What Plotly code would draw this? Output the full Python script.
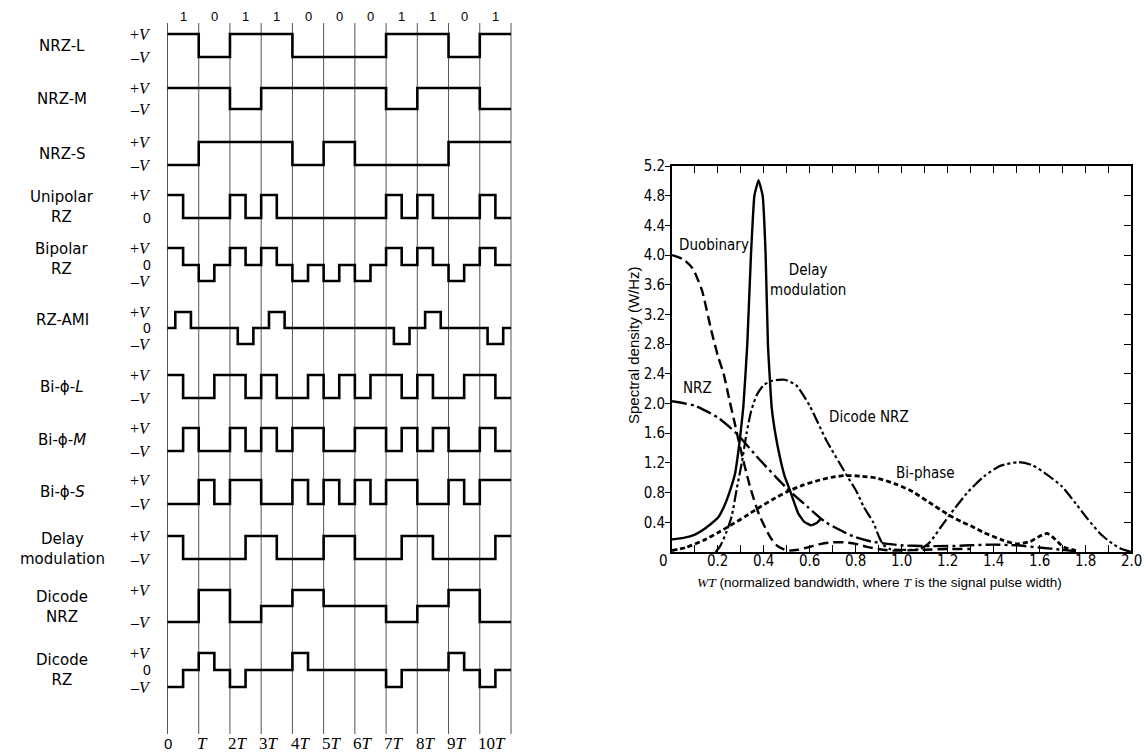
import plotly.graph_objects as go

W, H = 1146, 753

# ======================= LEFT PANEL DATA =======================
bits = ["1", "0", "1", "1", "0", "0", "0", "1", "1", "0", "1"]
grid_times = list(range(12))                      # grid lines at 0 .. 11T
time_labels = ["0", "<i>T</i>", "2<i>T</i>", "3<i>T</i>", "4<i>T</i>", "5<i>T</i>",
               "6<i>T</i>", "7<i>T</i>", "8<i>T</i>", "9<i>T</i>", "10<i>T</i>"]

half_edges = [k / 2 for k in range(23)]           # half-bit boundaries 0 .. 11T

# levels per half bit (+1 = +V, 0 = 0, -1 = -V)
nrz_l   = [1, 1, -1, -1, 1, 1, 1, 1, -1, -1, -1, -1, -1, -1, 1, 1, 1, 1, -1, -1, 1, 1]
nrz_m   = [1, 1, 1, 1, -1, -1, 1, 1, 1, 1, 1, 1, 1, 1, -1, -1, 1, 1, 1, 1, -1, -1]
nrz_s   = [-1, -1, 1, 1, 1, 1, 1, 1, -1, -1, 1, 1, -1, -1, -1, -1, -1, -1, 1, 1, 1, 1]
uni_rz  = [1, 0, 0, 0, 1, 0, 1, 0, 0, 0, 0, 0, 0, 0, 1, 0, 1, 0, 0, 0, 1, 0]
bip_rz  = [1, 0, -1, 0, 1, 0, 1, 0, -1, 0, -1, 0, -1, 0, 1, 0, 1, 0, -1, 0, 1, 0]
bi_l    = [1, -1, -1, 1, 1, -1, 1, -1, -1, 1, -1, 1, -1, 1, 1, -1, 1, -1, -1, 1, 1, -1]
bi_m    = [-1, 1, -1, -1, 1, -1, 1, -1, 1, 1, -1, -1, 1, 1, -1, 1, -1, 1, -1, -1, 1, -1]
bi_s    = [-1, -1, 1, -1, 1, 1, -1, -1, 1, -1, 1, -1, 1, -1, 1, 1, -1, -1, 1, -1, 1, 1]
delay   = [1, -1, -1, -1, -1, 1, 1, -1, -1, -1, 1, 1, -1, -1, -1, 1, 1, -1, -1, -1, -1, 1]
dic_nrz = [-1, -1, 1, 1, -1, -1, 0, 0, 1, 1, 0, 0, 0, 0, -1, -1, 0, 0, 1, 1, -1, -1]
dic_rz  = [-1, 0, 1, 0, -1, 0, 0, 0, 1, 0, 0, 0, 0, 0, -1, 0, 0, 0, 1, 0, -1, 0]

rz_ami_edges  = [0, 0.25, 0.75, 2.25, 2.75, 3.25, 3.75, 7.25, 7.75, 8.25, 8.75, 10.25, 10.75, 11]
rz_ami_levels = [0, 1, 0, -1, 0, 1, 0, -1, 0, 1, 0, -1, 0]

row_names = ["NRZ-L", "NRZ-M", "NRZ-S", "Unipolar<br>RZ", "Bipolar<br>RZ", "RZ-AMI",
             "Bi-\u03d5-<i>L</i>", "Bi-\u03d5-<i>M</i>", "Bi-\u03d5-<i>S</i>",
             "Delay<br>modulation", "Dicode<br>NRZ", "Dicode<br>RZ"]

waves = [(half_edges, nrz_l), (half_edges, nrz_m), (half_edges, nrz_s),
         (half_edges, uni_rz), (half_edges, bip_rz), (rz_ami_edges, rz_ami_levels),
         (half_edges, bi_l), (half_edges, bi_m), (half_edges, bi_s),
         (half_edges, delay), (half_edges, dic_nrz), (half_edges, dic_rz)]

# level labels shown for each row
row_level_labels = [
    [(1, "+V"), (-1, "-V")], [(1, "+V"), (-1, "-V")], [(1, "+V"), (-1, "-V")],
    [(1, "+V"), (0, "0")], [(1, "+V"), (0, "0"), (-1, "-V")], [(1, "+V"), (0, "0"), (-1, "-V")],
    [(1, "+V"), (-1, "-V")], [(1, "+V"), (-1, "-V")], [(1, "+V"), (-1, "-V")],
    [(1, "+V"), (-1, "-V")], [(1, "+V"), (-1, "-V")], [(1, "+V"), (0, "0"), (-1, "-V")],
]

# ---- left-panel layout (pixel rows of the +V, 0 and -V levels) ----
row_top  = [34, 88, 142, 195, 248, 312, 375, 428, 480, 536, 590, 653]
row_bot  = [57, 109, 165, 218, 281, 344, 398, 451, 504, 559, 622, 687]
row_zero = [45.5, 98.5, 153.5, 218, 265, 328, 386.5, 439.5, 492, 547.5, 606, 670]
row_label_y = [46, 99, 154, 207, 259, 320, 387, 440, 492, 549, 607, 670]

# ======================= RIGHT PANEL DATA =======================
wt_label_vals = [0.2, 0.4, 0.6, 0.8, 1.0, 1.2, 1.4, 1.6, 1.8, 2.0]
wt_tick_vals = [round(0.1 * k, 1) for k in range(21)]
psd_tick_vals = [0.4, 0.8, 1.2, 1.6, 2.0, 2.4, 2.8, 3.2, 3.6, 4.0, 4.4, 4.8, 5.2]

duo_wt  = [0.0, 0.05, 0.09, 0.13, 0.17, 0.2, 0.225, 0.25, 0.27, 0.3, 0.34, 0.38, 0.43, 0.46, 0.5,
           0.55, 0.6, 0.65, 0.7, 0.75, 0.8, 0.85, 0.9, 0.95, 1.0, 1.1, 1.2, 1.3]
duo_psd = [4.0, 3.94, 3.82, 3.53, 3.0, 2.64, 2.4, 2.05, 1.78, 1.37, 0.88, 0.5, 0.19, 0.08, 0.02,
           0.03, 0.07, 0.11, 0.13, 0.13, 0.11, 0.07, 0.04, 0.02, 0.02, 0.03, 0.04, 0.04]

dm_wt  = [0.0, 0.05, 0.1, 0.15, 0.2, 0.225, 0.25, 0.275, 0.295, 0.311, 0.328, 0.344, 0.359, 0.377,
          0.395, 0.408, 0.418, 0.434, 0.45, 0.47, 0.49, 0.514, 0.55, 0.575, 0.605, 0.63, 0.65]
dm_psd = [0.17, 0.19, 0.235, 0.33, 0.46, 0.6, 0.8, 1.06, 1.5, 1.96, 2.8, 4.0, 4.8, 5.01,
          4.8, 4.0, 2.8, 1.96, 1.6, 1.28, 1.03, 0.83, 0.52, 0.41, 0.36, 0.39, 0.45]

nrz_wt  = [0.0, 0.1, 0.2, 0.28, 0.38, 0.5, 0.59, 0.67, 0.79, 0.87, 0.94, 1.0, 1.1, 1.2, 1.3,
           1.4, 1.5, 1.6, 1.7, 1.76]
nrz_psd = [2.03, 1.97, 1.81, 1.6, 1.25, 0.86, 0.61, 0.4, 0.21, 0.14, 0.11, 0.09, 0.08, 0.08, 0.09,
           0.1, 0.09, 0.06, 0.03, 0.01]

dic_wt  = [0.19, 0.21, 0.235, 0.26, 0.282, 0.304, 0.325, 0.345, 0.37, 0.4, 0.44, 0.49, 0.54, 0.6,
           0.67, 0.76, 0.805, 0.835, 0.877, 0.9, 0.92, 0.95, 1.0, 1.05, 1.08, 1.12, 1.17, 1.21,
           1.29, 1.36, 1.43, 1.51, 1.57, 1.64, 1.7, 1.76, 1.81, 1.865, 1.92, 1.96, 2.0]
dic_psd = [0.0, 0.08, 0.25, 0.48, 0.85, 1.2, 1.6, 1.9, 2.12, 2.25, 2.31, 2.32, 2.25, 1.97,
           1.52, 1.04, 0.81, 0.61, 0.4, 0.22, 0.1, 0.04, 0.03, 0.03, 0.04, 0.12, 0.33, 0.5,
           0.81, 1.02, 1.16, 1.21, 1.17, 1.03, 0.88, 0.65, 0.45, 0.25, 0.11, 0.04, 0.0]

bip_wt  = [0.0, 0.06, 0.14, 0.2, 0.25, 0.32, 0.38, 0.44, 0.5, 0.57, 0.645, 0.7, 0.76, 0.83, 0.9,
           0.98, 1.05, 1.12, 1.2, 1.26, 1.31, 1.36, 1.44, 1.5, 1.56, 1.6, 1.635, 1.67, 1.705, 1.76]
bip_psd = [0.02, 0.06, 0.16, 0.26, 0.35, 0.48, 0.6, 0.71, 0.81, 0.9, 0.97, 1.01, 1.03, 1.02, 0.99,
           0.91, 0.81, 0.67, 0.51, 0.41, 0.34, 0.26, 0.16, 0.11, 0.14, 0.21, 0.25, 0.17, 0.07, 0.02]

# ======================= FIGURE =======================
SANS = "DejaVu Sans, Arial, sans-serif"
SERIF = "Liberation Serif, Times New Roman, serif"
NARROW = "Liberation Sans Narrow, Arial Narrow, DejaVu Sans Condensed, Liberation Sans, sans-serif"
ARIAL = "Liberation Sans, Arial, sans-serif"


def px(x):
    return x / W


def py(y):
    return 1 - y / H


fig = go.Figure()

# ---- left panel: time grid
t0_px, t11_px = 167.5, 511.0
pad = 0.3
scale = (t11_px - t0_px) / 11
lx0 = t0_px - pad * scale
lx1 = t11_px + pad * scale

gx, gy = [], []
for t in grid_times:
    gx += [t, t, None]
    gy += [23, 734, None]
fig.add_trace(go.Scatter(x=gx, y=gy, mode="lines", xaxis="x2", yaxis="y2",
                         line=dict(color="#555555", width=1), hoverinfo="skip", showlegend=False))


def level_to_y(i, lev):
    if lev >= 0:
        return row_zero[i] - lev * (row_zero[i] - row_top[i])
    return row_zero[i] + (-lev) * (row_bot[i] - row_zero[i])


for i, (edges, levels) in enumerate(waves):
    xs = list(edges)
    ys = [level_to_y(i, l) for l in levels] + [level_to_y(i, levels[-1])]
    fig.add_trace(go.Scatter(x=xs, y=ys, mode="lines", line_shape="hv", xaxis="x2", yaxis="y2",
                             line=dict(color="black", width=2.6), hoverinfo="skip", showlegend=False))

annotations = []
for k, b in enumerate(bits):
    annotations.append(dict(x=k + 0.5, y=16, xref="x2", yref="y2", text=b,
                            font=dict(family=ARIAL, size=13, color="black")))
for k, lab in enumerate(time_labels):
    if k == 0:
        annotations.append(dict(x=k, y=743, xref="x2", yref="y2", text=lab,
                                font=dict(family=ARIAL, size=15, color="black")))
    else:
        annotations.append(dict(x=k - 0.12, y=743, xref="x2", yref="y2", text=lab, xanchor="left",
                                font=dict(family=SERIF, size=17, color="black")))

for i, name in enumerate(row_names):
    annotations.append(dict(x=px(62), y=row_label_y[i], xref="paper", yref="y2", text=name,
                            align="center", font=dict(family=SANS, size=15, color="black")))
    for lev, txt in row_level_labels[i]:
        if txt == "0":
            t, fnt = "0", dict(family=ARIAL, size=14, color="black")
        else:
            sign = "+" if txt.startswith("+") else "\u2013"
            t, fnt = f"{sign}<i>V</i>", dict(family=SERIF, size=16, color="black")
        annotations.append(dict(x=px(153), y=level_to_y(i, lev), xref="paper", yref="y2", text=t,
                                xanchor="right", font=fnt))

# ---- right panel: spectral curves
curve_specs = [
    (duo_wt, duo_psd, "10px,5px", 2.4, 0.6),
    (dm_wt, dm_psd, "solid", 2.4, 0.35),
    (nrz_wt, nrz_psd, "15px,4px,3px,4px", 2.4, 0.6),
    (dic_wt, dic_psd, "12px,3px,3px,3px,3px,3px", 2.2, 0.6),
    (bip_wt, bip_psd, "5px,3px", 2.8, 0.6),
]
for xs, ys, dash, w, sm in curve_specs:
    fig.add_trace(go.Scatter(x=xs, y=ys, mode="lines", line=dict(color="black", width=w, dash=dash,
                                                               shape="spline", smoothing=sm),
                             hoverinfo="skip", showlegend=False))
# dummy trace for right-side tick axis
fig.add_trace(go.Scatter(x=[0], y=[0], yaxis="y3", mode="markers", marker=dict(opacity=0),
                         hoverinfo="skip", showlegend=False))

lab_font = dict(family=NARROW, size=15, color="black")
annotations += [
    dict(x=0.185, y=4.13, xref="x", yref="y", text="Duobinary", font=lab_font),
    dict(x=0.593, y=3.66, xref="x", yref="y", text="Delay<br>modulation", font=lab_font),
    dict(x=0.113, y=2.21, xref="x", yref="y", text="NRZ", font=lab_font),
    dict(x=0.858, y=1.82, xref="x", yref="y", text="Dicode NRZ", font=lab_font),
    dict(x=1.105, y=1.06, xref="x", yref="y", text="Bi-phase", font=lab_font),
    dict(x=px(663), y=py(561), xref="paper", yref="paper", text="0",
         font=dict(family=NARROW, size=15, color="black")),
    dict(x=px(633), y=py(345), xref="paper", yref="paper", text="Spectral density (W/Hz)",
         textangle=-90, font=dict(family=ARIAL, size=15, color="black")),
    dict(x=px(879), y=py(582), xref="paper", yref="paper",
         text=f'<span style="font-family:{SERIF}"><i>WT</i></span> (normalized bandwidth, where '
              f'<span style="font-family:{SERIF}"><i>T</i></span> is the signal pulse width)',
         font=dict(family=ARIAL, size=13.5, color="black")),
]
for v in wt_label_vals:
    annotations.append(dict(x=v, y=py(561), xref="x", yref="paper", text=f"{v:.1f}",
                            font=dict(family=NARROW, size=15, color="black")))
for a in annotations:
    a.setdefault("showarrow", False)
    a.setdefault("xanchor", "center")
    a.setdefault("yanchor", "middle")

ax_x0, ax_x1 = 672, 1131
ax_y0, ax_y1 = 552, 166

fig.update_layout(
    width=W, height=H, autosize=False,
    margin=dict(l=0, r=0, t=0, b=0, pad=0, autoexpand=False),
    paper_bgcolor="white", plot_bgcolor="rgba(0,0,0,0)",
    showlegend=False,
    annotations=annotations,
    xaxis=dict(domain=[px(ax_x0), px(ax_x1)], range=[0, 2.0], anchor="y", automargin=False,
               showgrid=False, zeroline=False, showline=True, linecolor="black", linewidth=1.6,
               mirror="ticks", ticks="inside", ticklen=7, tickwidth=1.2, tickcolor="black",
               tickvals=wt_tick_vals, showticklabels=False),
    yaxis=dict(domain=[py(ax_y0), py(ax_y1)], range=[0, 5.2], anchor="x", automargin=False,
               showgrid=False, zeroline=False, showline=True, linecolor="black", linewidth=1.6,
               ticks="outside", ticklen=5, tickwidth=1.2, tickcolor="black",
               tickvals=psd_tick_vals, ticktext=[f"{v:.1f}" for v in psd_tick_vals],
               ticklabelstandoff=-3,
               tickfont=dict(family=NARROW, size=15, color="black")),
    yaxis3=dict(overlaying="y", side="right", anchor="x", range=[0, 5.2], automargin=False,
                showgrid=False, zeroline=False, showline=True, linecolor="black", linewidth=1.6,
                ticks="inside", ticklen=7, tickwidth=1.2, tickcolor="black",
                tickvals=psd_tick_vals, showticklabels=False),
    xaxis2=dict(domain=[px(lx0), px(lx1)], range=[-pad, 11 + pad], anchor="y2", visible=False,
                automargin=False),
    yaxis2=dict(domain=[0, 1], range=[H, 0], anchor="x2", visible=False, automargin=False),
)

post = ("document.documentElement.style.margin='0px';"
        "document.body.style.margin='0px';document.body.style.padding='0px';"
        "document.body.style.overflow='hidden';"
        "var gd=document.getElementById('{plot_id}');"
        "gd.style.position='fixed';gd.style.top='0px';gd.style.left='0px';")
fig.write_html("out.html", config={"responsive": False, "displayModeBar": False},
               default_width=f"{W}px", default_height=f"{H}px", post_script=post)
